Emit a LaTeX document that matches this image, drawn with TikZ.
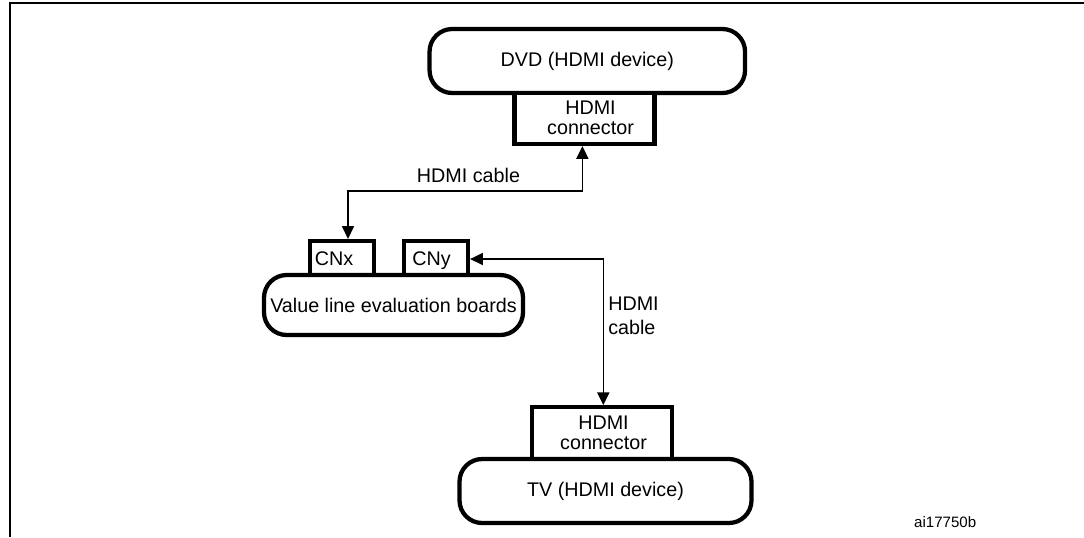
\documentclass[tikz,border=0pt]{standalone}
\usepackage{fontspec}
\setmainfont{Liberation Sans}
\usetikzlibrary{arrows.meta}
\tikzset{
 px/.style={x=0.75pt,y=-0.75pt},
 pill/.style={draw,line width=3.2pt,rounded corners=17pt,fill=white,inner sep=0pt,
   font=\fontsize{14.8pt}{15pt}\selectfont},
 conn/.style={draw,line width=3.2pt,fill=white,inner sep=0pt},
 txt/.style={inner sep=0pt,align=center,font=\fontsize{14.8pt}{15pt}\selectfont},
 lbl/.style={inner sep=0pt,align=left,font=\fontsize{14.8pt}{18pt}\selectfont},
 small/.style={inner sep=0pt,font=\fontsize{11.3pt}{13pt}\selectfont},
 wire/.style={line width=1.2pt,{Triangle[length=9.5pt,width=9pt]}-{Triangle[length=9.5pt,width=9pt]}}
}
\begin{document}
\begin{tikzpicture}[px]
\useasboundingbox (0,0) rectangle (1084,537);
\draw[line width=1.6pt] (10,537) -- (10,3) -- (1084,3);
% devices
\node[pill,minimum width=315.5*0.75pt,minimum height=64*0.75pt] (dvd) at (587.3,61) {DVD (HDMI device)};
\node[conn,minimum width=140*0.75pt,minimum height=51*0.75pt] (cd) at (584.5,118.5) {};
\node[txt] (cdt) at (590.5,117.5) {HDMI\\connector};
\node[conn,minimum width=64*0.75pt,minimum height=36*0.75pt] (cnx) at (342,259) {};
\node[txt,text height=10.6pt,text depth=3.1pt] (cnxt) at (334,260) {CNx};
\node[conn,minimum width=64*0.75pt,minimum height=36*0.75pt] (cny) at (436,259) {};
\node[txt,text height=10.6pt,text depth=3.1pt] (cnyt) at (431.5,260) {CNy};
\node[pill,minimum width=259*0.75pt,minimum height=60*0.75pt] (val) at (393.5,305) {Value line evaluation boards};
\node[conn,minimum width=140*0.75pt,minimum height=51.5*0.75pt] (ct) at (602,433) {};
\node[txt] (ctt) at (603.5,432.5) {HDMI\\connector};
\node[pill,minimum width=292*0.75pt,minimum height=64*0.75pt] (tv) at (605.5,491) {TV (HDMI device)};
% wires
\coordinate (a) at (348,190.7);
\coordinate (b) at (582.4,190.7);
\coordinate (c) at (603.3,259);
\draw[wire] (cnx.north -| a) -- (a) -- (b) -- (cd.south -| b);
\draw[wire] (cny.east |- c) -- (c) -- (ct.north -| c);
% labels
\node[lbl] (l1) at (468.5,175) {HDMI cable};
\node[lbl,anchor=west] (l2) at (608,316) {HDMI\\cable};
\node[small,anchor=east] (code) at (976.5,522) {ai17750b};
\end{tikzpicture}
\end{document}
